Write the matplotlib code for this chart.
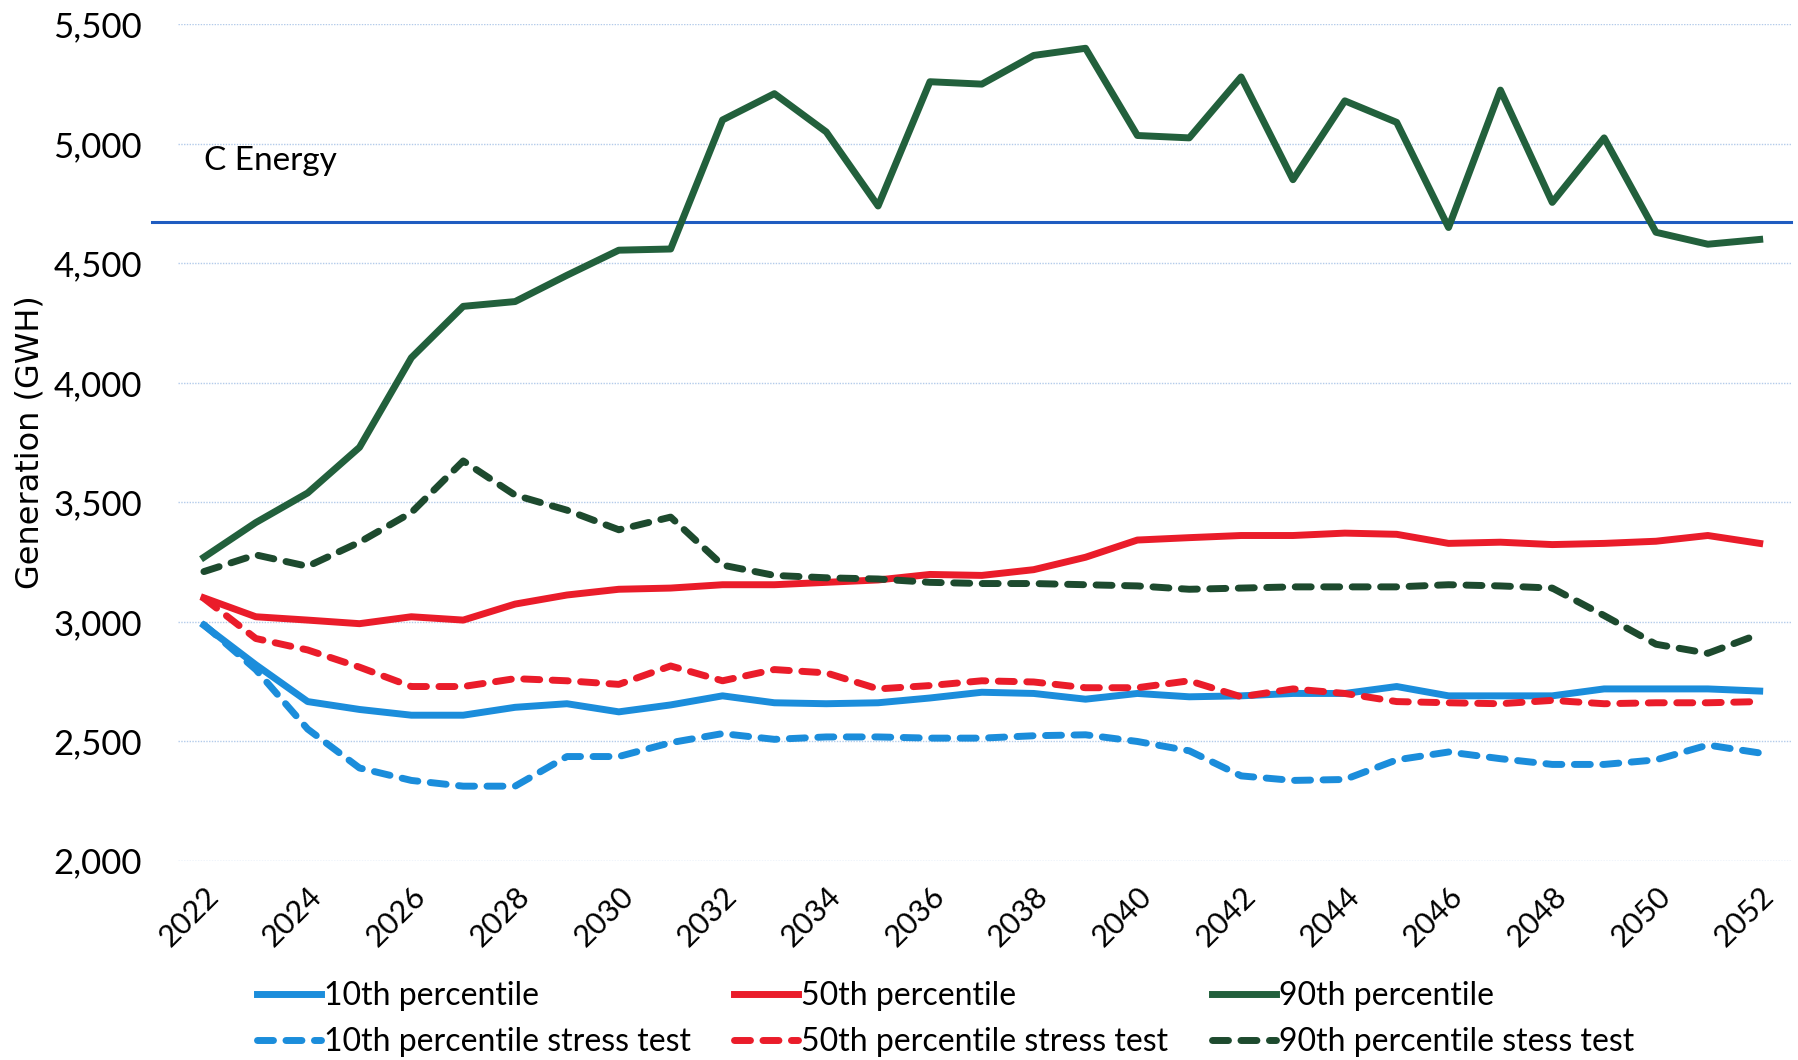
import matplotlib
matplotlib.use("Agg")
import matplotlib.pyplot as plt

years = list(range(2022, 2053))

p10 = [2985, 2820, 2666, 2633, 2609, 2609, 2642, 2657, 2623, 2652,
       2690, 2661, 2657, 2661, 2681, 2705, 2700, 2676, 2700, 2686,
       2690, 2700, 2700, 2729, 2690, 2690, 2690, 2719, 2719, 2719, 2710]
p50 = [3100, 3021, 3007, 2992, 3021, 3007, 3074, 3112, 3136, 3141,
       3155, 3155, 3165, 3175, 3198, 3194, 3218, 3270, 3342, 3352,
       3361, 3361, 3371, 3366, 3328, 3333, 3323, 3328, 3337, 3361, 3328]
p90 = [3270, 3415, 3539, 3730, 4105, 4320, 4340, 4450, 4555, 4560,
       5100, 5210, 5050, 4740, 5260, 5250, 5370, 5400, 5035, 5025,
       5280, 4850, 5180, 5090, 4650, 5225, 4755, 5025, 4630, 4580, 4600]
p10_st = [2988, 2800, 2551, 2388, 2336, 2312, 2312, 2436, 2436, 2494,
          2532, 2508, 2518, 2518, 2513, 2513, 2523, 2527, 2499, 2460,
          2355, 2336, 2340, 2422, 2455, 2427, 2403, 2403, 2422, 2484, 2451]
p50_st = [3098, 2930, 2882, 2810, 2729, 2729, 2762, 2753, 2738, 2815,
          2753, 2800, 2786, 2719, 2733, 2753, 2748, 2724, 2724, 2753,
          2686, 2719, 2700, 2666, 2661, 2657, 2671, 2657, 2661, 2661, 2666]
p90_st = [3210, 3280, 3232, 3333, 3457, 3673, 3530, 3467, 3385, 3438,
          3237, 3194, 3184, 3179, 3165, 3160, 3160, 3155, 3150, 3136,
          3141, 3146, 3146, 3146, 3155, 3150, 3141, 3026, 2906, 2868, 2949]
c_energy = 4675

blue = '#1b8ddb'
red = '#ea1c2a'
green = '#22603c'
green_d = '#1d4a2e'

fig = plt.figure(figsize=(17.98, 10.60), dpi=100)
ax = fig.add_axes([0.099, 0.188, 0.897, 0.789])

lw = 5.0
dash = (2.3, 1.8)
l1, = ax.plot(years, p10, color=blue, lw=lw, label='10th percentile')
l2, = ax.plot(years, p10_st, color=blue, lw=lw, ls='--', dashes=dash,
              dash_capstyle='round', label='10th percentile stress test')
l3, = ax.plot(years, p50, color=red, lw=lw, label='50th percentile')
l4, = ax.plot(years, p50_st, color=red, lw=lw, ls='--', dashes=dash,
              dash_capstyle='round', label='50th percentile stress test')
l5, = ax.plot(years, p90, color=green, lw=lw, label='90th percentile')
l6, = ax.plot(years, p90_st, color=green_d, lw=lw, ls='--', dashes=dash,
              dash_capstyle='round', label='90th percentile stess test')

# capacity line, runs a bit past the left edge like the original
ax.plot([2021.0, 2052.6], [c_energy, c_energy], color='#1f5cc0', lw=2.2,
        clip_on=False, zorder=1)
ax.text(2022, 4930, 'C Energy', fontsize=24, family='Lato', va='center')

ax.set_xlim(2021.5, 2052.6)
ax.set_ylim(2000, 5500)
ax.set_yticks(range(2000, 5501, 500))
ax.set_yticklabels([f'{v:,}' for v in range(2000, 5501, 500)],
                   fontsize=25, family='Lato')
ax.set_xticks(years[::2])
ax.set_xticklabels([str(y) for y in years[::2]], rotation=45, ha='right',
                   rotation_mode='anchor', fontsize=22, family='Lato')
ax.tick_params(axis='y', length=0, pad=26)
ax.tick_params(axis='x', length=0, pad=15)
ax.grid(axis='y', color='#b3cbea', lw=1.0, ls=(0, (1, 1)))
for s in ax.spines.values():
    s.set_visible(False)
ax.set_ylabel('Generation (GWH)', fontsize=23)
ax.yaxis.set_label_coords(-0.082, 0.5)

fig.legend(handles=[l1, l2, l3, l4, l5, l6], ncol=3, frameon=False,
           loc='lower left', bbox_to_anchor=(0.127, -0.024),
           prop={'family': 'Lato', 'size': 23},
           handlelength=2.0, handletextpad=0.1, columnspacing=1.35,
           labelspacing=0.5)

fig.savefig('out.png', dpi=100)
